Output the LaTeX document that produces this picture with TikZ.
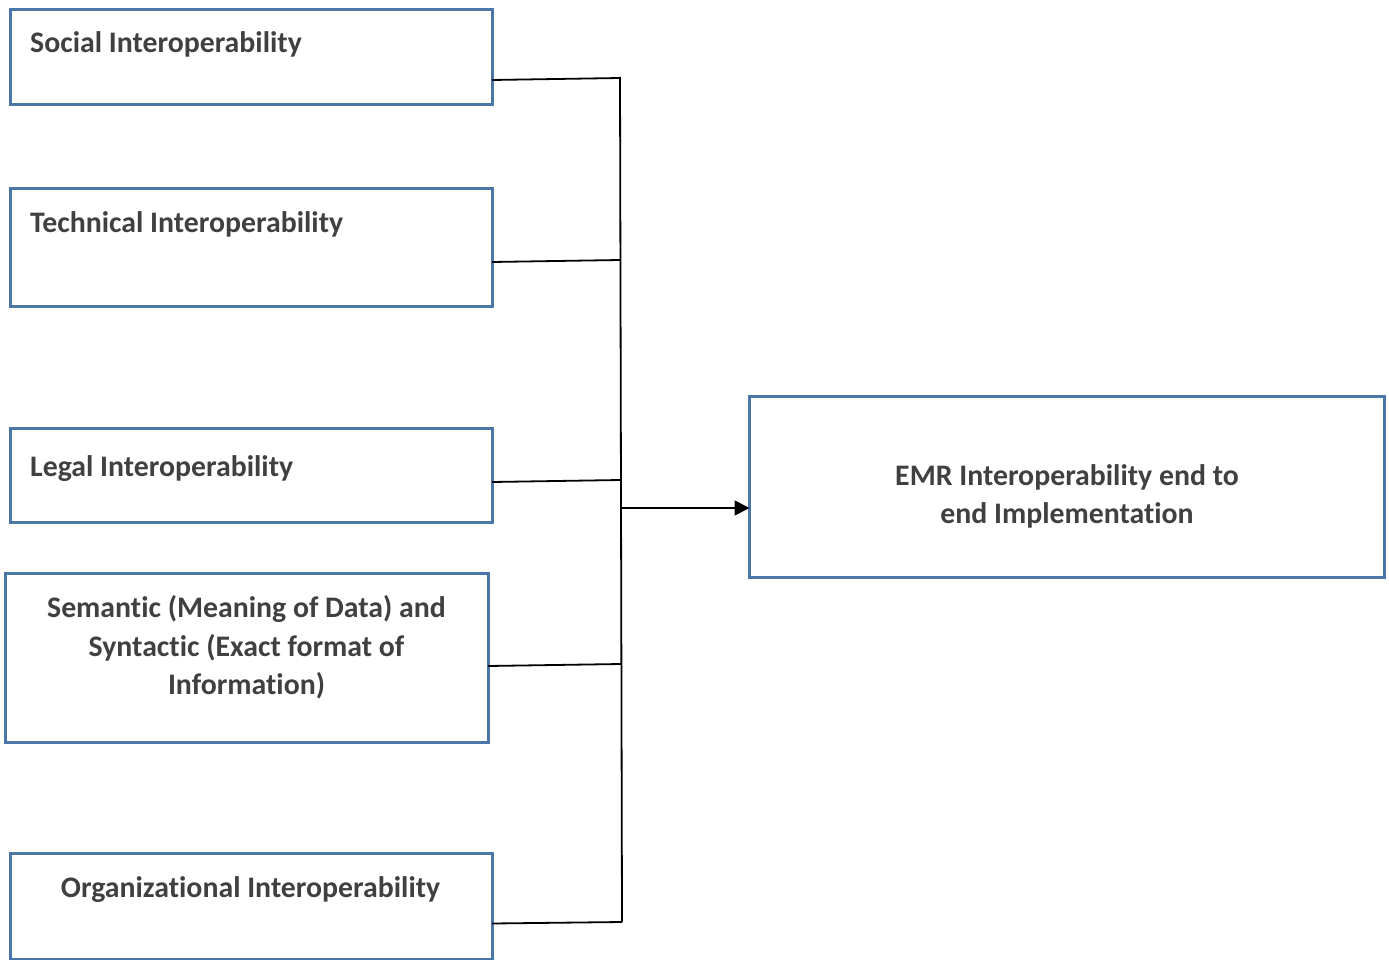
\documentclass[tikz,border=0pt]{standalone}
\usepackage{fontspec}
\setmainfont{Carlito}[Ligatures={NoCommon,TeX}]
\usetikzlibrary{arrows.meta}
\definecolor{boxblue}{RGB}{74,118,168}
\definecolor{textgray}{RGB}{64,64,64}
\begin{document}
\begin{tikzpicture}[x=1pt,y=-1pt,
  box/.style={draw=boxblue,line width=3pt,fill=none,inner sep=0pt,outer sep=0pt,anchor=north west},
  lbl/.style={inner sep=0pt,text=textgray,font=\fontsize{29.8}{38.5}\selectfont\bfseries},
  wire/.style={draw=black,line width=1.8pt},
  feed/.style={wire,-{Triangle[length=15pt,width=15pt]}}]
\useasboundingbox (0,0) rectangle (1389,960);

% input boxes
\node[box,minimum width=482pt,minimum height=95pt]  (social) at (10,10) {};
\node[box,minimum width=482pt,minimum height=118pt] (tech)   at (10,188.5) {};
\node[box,minimum width=482pt,minimum height=94pt]  (legal)  at (10,428) {};
\node[box,minimum width=483pt,minimum height=169pt] (sem)    at (5,573) {};
\node[box,minimum width=482pt,minimum height=106pt] (org)    at (10,853) {};
% outcome box
\node[box,minimum width=634.5pt,minimum height=181pt] (emr) at (749.5,396) {};

% labels
\node[lbl,anchor=base west] (tsocial) at (30,53) {Social Interoperability};
\node[lbl,anchor=base west] (ttech)   at (30,233) {Technical Interoperability};
\node[lbl,anchor=base west] (tlegal)  at (30,476) {Legal Interoperability};
\node[lbl,anchor=base] (tsem1) at (246.5,617) {Semantic (Meaning of Data) and};
\node[lbl,anchor=base] (tsem2) at (246.5,656) {Syntactic (Exact format of};
\node[lbl,anchor=base] (tsem3) at (246.5,694) {Information)};
\node[lbl,anchor=base] (torg)  at (250.5,897) {Organizational Interoperability};
\node[lbl,anchor=base] (temr1) at (1067,485) {EMR Interoperability end to};
\node[lbl,anchor=base] (temr2) at (1067,523) {end Implementation};

% collector bus
\coordinate (bt) at (620,77);
\coordinate (bb) at (622,922);
\coordinate (b1) at (620,78);
\coordinate (b2) at (620,260);
\coordinate (b3) at (620.5,480);
\coordinate (b4) at (621,664);
\coordinate (b5) at (622,922);
\coordinate (bo) at (621,508);

\draw[wire] (bt) -- (bb);
\draw[wire] (social.east |- 0,80)  -- (b1);
\draw[wire] (tech.east |- 0,262)   -- (b2);
\draw[wire] (legal.east |- 0,482)  -- (b3);
\draw[wire] (sem.east |- 0,666)    -- (b4);
\draw[wire] (org.east |- 0,923.5)  -- (b5);
\draw[feed] (bo) -- (emr.west |- 0,508);
\end{tikzpicture}
\end{document}
